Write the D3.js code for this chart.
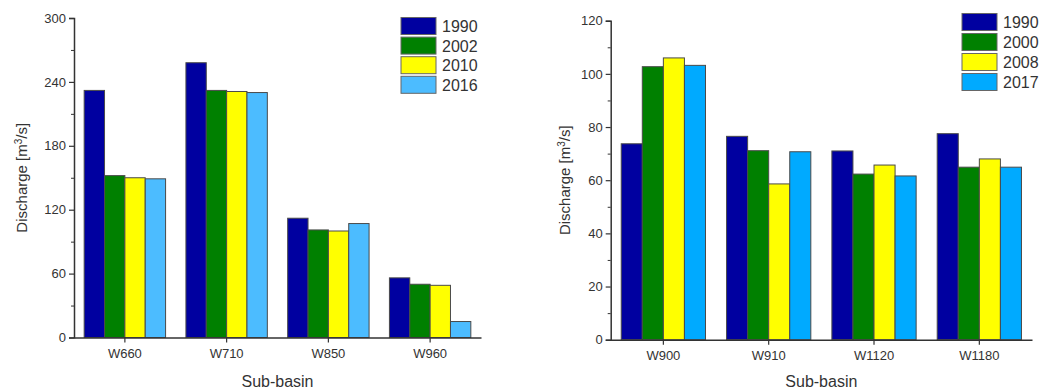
<!DOCTYPE html>
<html><head><meta charset="utf-8">
<script src="https://cdn.jsdelivr.net/npm/d3@7"></script>
<style>
html,body{margin:0;padding:0;background:#fff;}
svg{display:block;font-family:"Liberation Sans",Arial,sans-serif;}
</style></head>
<body><svg id="c" width="1040" height="392"></svg>
<script>
// Left panel data
const catsA = ["W660","W710","W850","W960"];
const yearsA = ["1990","2002","2010","2016"];
const valsA = [
  [232, 258, 112, 56],   // 1990
  [152, 232, 101, 50],   // 2002
  [150, 231, 100, 49],   // 2010
  [149, 230, 107, 15]    // 2016
];
const ticksA = [0,60,120,180,240,300];
const minorA = [30,90,150,210,270];
const colorsA = ["#0000a0","#008000","#ffff00","#4cbcff"];

// Right panel data
const catsB = ["W900","W910","W1120","W1180"];
const yearsB = ["1990","2000","2008","2017"];
const valsB = [
  [73.7, 76.5, 71.0, 77.5],   // 1990
  [102.7, 71.1, 62.3, 64.9],  // 2000
  [106.0, 58.6, 65.7, 68.0],  // 2008
  [103.2, 70.7, 61.6, 64.9]   // 2017
];
const ticksB = [0,20,40,60,80,100,120];
const minorB = [10,30,50,70,90,110];
const colorsB = ["#0000a0","#008000","#ffff00","#00aaff"];

const svg = d3.select("#c");
const axisColor = "#333";
const textColor = "#333";

function panel(cfg){
  const g = svg.append("g");
  const x = d3.scaleBand().domain(cfg.cats).range([cfg.x0, cfg.x1]).padding(0);
  const y = d3.scaleLinear().domain([0, cfg.ymax]).range([cfg.y0, cfg.y1]);
  const inner = d3.scaleBand().domain(cfg.years).range([x.bandwidth()*0.1, x.bandwidth()*0.9]).padding(0);

  // bars
  cfg.years.forEach((yr, si) => {
    g.selectAll(null).data(cfg.cats.map((c,ci)=>({c, v: cfg.vals[si][ci]})))
      .enter().append("rect")
      .attr("x", d => x(d.c) + inner(yr))
      .attr("y", d => y(d.v))
      .attr("width", inner.bandwidth())
      .attr("height", d => y(0) - y(d.v))
      .attr("fill", cfg.colors[si])
      .attr("stroke", "#4a4a4a")
      .attr("stroke-width", 1);
  });

  // y axis
  const ya = g.append("g").attr("transform", `translate(${cfg.x0},0)`)
    .call(d3.axisLeft(y).tickValues(cfg.ticks).tickSize(5).tickPadding(3).tickFormat(d3.format("d")));
  ya.select(".domain").attr("stroke", axisColor).attr("stroke-width", 1.5);
  ya.selectAll(".tick line").attr("stroke", axisColor).attr("stroke-width", 1.2);
  ya.selectAll(".tick text").attr("fill", textColor).style("font-size", "13px").style("font-family","Liberation Sans, Arial, sans-serif");
  const ym = g.append("g").attr("transform", `translate(${cfg.x0},0)`)
    .call(d3.axisLeft(y).tickValues(cfg.minor).tickSize(3).tickFormat(""));
  ym.select(".domain").remove();
  ym.selectAll(".tick line").attr("stroke", axisColor).attr("stroke-width", 1);

  // x axis
  const xa = g.append("g").attr("transform", `translate(0,${cfg.y0})`)
    .call(d3.axisBottom(x).tickSize(5).tickPadding(6).tickSizeOuter(0));
  xa.select(".domain").attr("stroke", axisColor).attr("stroke-width", 1.5);
  xa.selectAll(".tick line").attr("stroke", axisColor).attr("stroke-width", 1.2);
  xa.selectAll(".tick text").attr("fill", textColor).style("font-size", "13px").style("font-family","Liberation Sans, Arial, sans-serif");

  // axis titles
  g.append("text").attr("x", (cfg.x0+cfg.x1)/2).attr("y", 387)
    .attr("text-anchor","middle").attr("fill", textColor).style("font-size","16px")
    .text("Sub-basin");
  const yt = g.append("text")
    .attr("transform", `translate(${cfg.ytx},${(cfg.y0+cfg.y1)/2}) rotate(-90)`)
    .attr("text-anchor","middle").attr("fill", textColor).style("font-size","15px");
  yt.append("tspan").text("Discharge [m");
  yt.append("tspan").attr("dy", -5).style("font-size","10px").text("3");
  yt.append("tspan").attr("dy", 5).text("/s]");

  // legend
  const lg = g.append("g");
  cfg.years.forEach((yr, i) => {
    lg.append("rect").attr("x", cfg.lx).attr("y", cfg.ly + i*cfg.lstep)
      .attr("width", 35).attr("height", 17)
      .attr("fill", cfg.colors[i]).attr("stroke", "#666").attr("stroke-width", 1);
    lg.append("text").attr("x", cfg.lx + 41).attr("y", cfg.ly + i*cfg.lstep + 14.5)
      .attr("fill", textColor).style("font-size","16px").text(yr);
  });
}

panel({cats: catsA, years: yearsA, vals: valsA, colors: colorsA, ticks: ticksA, minor: minorA,
  ymax: 300, x0: 74, x1: 481, y0: 337.5, y1: 18, ytx: 27, lx: 401, ly: 17.5, lstep: 19.6});
panel({cats: catsB, years: yearsB, vals: valsB, colors: colorsB, ticks: ticksB, minor: minorB,
  ymax: 120, x0: 610.7, x1: 1032, y0: 339.7, y1: 20.7, ytx: 570, lx: 962, ly: 13.5, lstep: 20});
</script>
</body></html>
